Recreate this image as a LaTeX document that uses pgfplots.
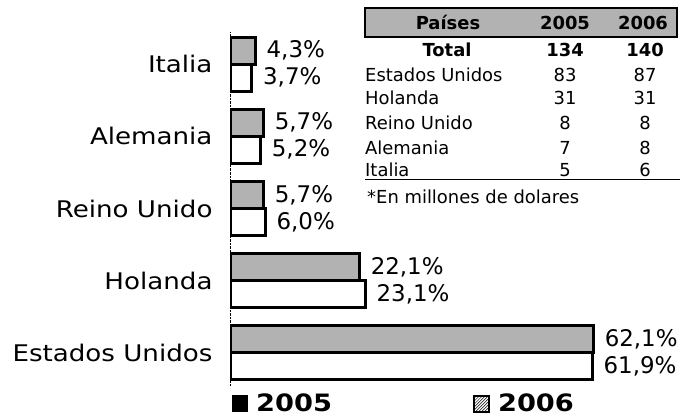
\documentclass[border=0pt]{standalone}
\usepackage{fontspec}
\setmainfont{DejaVu Sans}
\newfontfamily\widefont{DejaVu Sans}[FakeStretch=1.14]
\usepackage{pgfplots}
\pgfplotsset{compat=1.18}
\usetikzlibrary{patterns}

\newcommand{\tfont}{\fontsize{18}{21}\selectfont}

\begin{document}
\begin{tikzpicture}[x=1bp,y=1bp]
\useasboundingbox (0,0) rectangle (686,418);
\begin{axis}[
  at={(230bp,32.5bp)}, anchor=south west,
  scale only axis, width=409.5bp, height=354bp,
  xbar, bar width=27bp,
  xmin=0, xmax=70, ymin=-0.45, ymax=4.45,
  hide x axis,
  axis y line*=left,
  y axis line style={black, thin, densely dotted},
  ytick={0,1,2,3,4},
  yticklabels={Estados Unidos, Holanda, Reino Unido, Alemania, Italia},
  major tick length=0pt,
  y tick label style={font=\widefont\fontsize{23}{26}\selectfont, xshift=-14bp},
  nodes near coords={\pgfmathprintnumber[fixed, fixed zerofill, precision=1, use comma, assume math mode=true]{\pgfplotspointmeta}\%},
  nodes near coords style={font=\fontsize{23}{26}\selectfont, inner sep=2bp, xshift=8bp, black},
  legend columns=2,
  legend style={draw=none, fill=none, at={(0,0)}, anchor=west, yshift=-18bp, xshift=2bp,
    inner sep=0pt, font=\widefont\bfseries\fontsize{24}{28}\selectfont,
    /tikz/every odd column/.append style={column sep=6bp},
    /tikz/every even column/.append style={column sep=139bp}},
  legend image code/.code={\draw[#1] (0bp,-8bp) rectangle (15bp,8bp);},
]
% 2005
\addplot[draw=black, line width=3bp, fill=black!30, bar shift=13.5bp, forget plot] coordinates {
  (62.1,0) (22.1,1) (5.7,2) (5.7,3) (4.3,4)
};
% 2006
\addplot[draw=black, line width=3bp, fill=white, bar shift=-13.5bp, forget plot] coordinates {
  (61.9,0) (23.1,1) (6.0,2) (5.2,3) (3.7,4)
};
\addlegendimage{draw=black, line width=1bp, fill=black}
\addlegendentry{2005}
\addlegendimage{draw=black, line width=2bp, pattern=north east lines}
\addlegendentry{2006}
\end{axis}

% table
\draw[line width=2bp, fill=black!30] (365,410) rectangle (677,381);
\node[font=\tfont\bfseries] at (448,395.5) {Países};
\node[font=\tfont\bfseries] at (565,395.5) {2005};
\node[font=\tfont\bfseries] at (643,395.5) {2006};

\node[font=\tfont\bfseries] at (447,368) {Total};
\node[font=\tfont\bfseries] at (565,368) {134};
\node[font=\tfont\bfseries] at (645,368) {140};

\node[font=\tfont, anchor=west, inner sep=0pt] at (365,343) {Estados Unidos};
\node[font=\tfont] at (565,343) {83};
\node[font=\tfont] at (645,343) {87};
\node[font=\tfont, anchor=west, inner sep=0pt] at (365,320) {Holanda};
\node[font=\tfont] at (565,320) {31};
\node[font=\tfont] at (645,320) {31};
\node[font=\tfont, anchor=west, inner sep=0pt] at (365,295) {Reino Unido};
\node[font=\tfont] at (565,295) {8};
\node[font=\tfont] at (645,295) {8};
\node[font=\tfont, anchor=west, inner sep=0pt] at (365,270) {Alemania};
\node[font=\tfont] at (565,270) {7};
\node[font=\tfont] at (645,270) {8};
\node[font=\tfont, anchor=west, inner sep=0pt] at (365,248) {Italia};
\node[font=\tfont] at (565,248) {5};
\node[font=\tfont] at (645,248) {6};
\draw[line width=1.5bp] (365,238.5) -- (680,238.5);
\node[font=\tfont, anchor=west, inner sep=0pt] at (367,221) {*En millones de dolares};
\end{tikzpicture}
\end{document}
